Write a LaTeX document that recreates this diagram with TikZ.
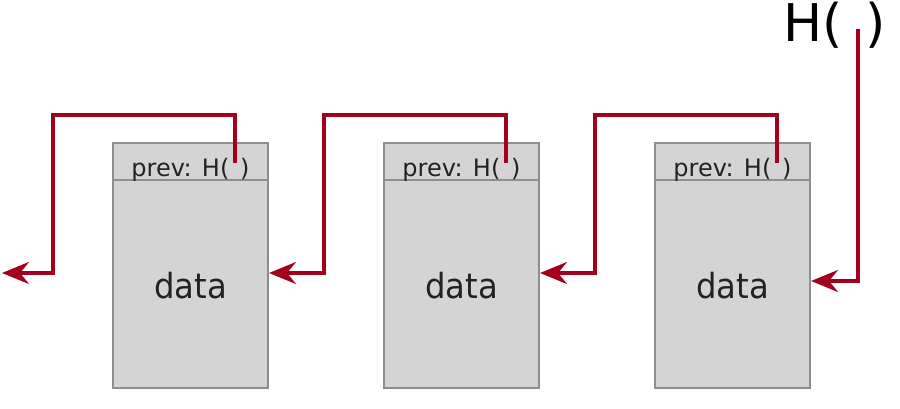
\documentclass[tikz,border=0pt]{standalone}
\usepackage{fontspec}
\usepackage{graphicx}
\setmainfont{DejaVu Sans}
\usetikzlibrary{arrows.meta}
\definecolor{linkred}{HTML}{A3001E}
\definecolor{boxfill}{HTML}{D4D4D5}
\definecolor{boxline}{HTML}{8E8E8E}
\definecolor{txt}{HTML}{222222}
\tikzset{
  blockbox/.style={draw=boxline, fill=boxfill, line width=2pt, minimum width=155pt, minimum height=245pt, inner sep=0pt},
  headtext/.style={text=txt, font=\fontsize{24}{24}\selectfont, inner sep=0pt, anchor=base},
  datatext/.style={text=txt, font=\fontsize{34}{34}\selectfont, inner sep=0pt, anchor=base},
  bigtext/.style={text=black, font=\fontsize{52}{52}\selectfont, inner sep=0pt, anchor=base west},
  link/.style={draw=linkred, line width=3.5pt, -{Stealth[length=27pt,width=22pt,inset=9pt]}}
}
\begin{document}
\begin{tikzpicture}[x=1pt,y=-1pt]
\useasboundingbox (0,0) rectangle (900,409);
\foreach \i/\x in {1/190.5,2/461.5,3/732.5}{
  \node[blockbox] (b\i) at (\x,265.5) {};
  \draw[boxline, line width=2pt] (\x-77.5,180) -- (\x+77.5,180);
  \node[headtext] (h\i) at (\x,176) {prev: H(\hspace{0.45em})};
  \node[datatext] (d\i) at (\x,298) {\scalebox{0.95}[1.02]{data}};
}
\node[bigtext] (top) at (783,42) {H(\hspace{0.45em})};
% coordinates
\coordinate (p1) at (235,163);
\coordinate (p2) at (506,163);
\coordinate (p3) at (777,163);
\coordinate (p4) at (858,29);
\coordinate (k1) at (53,115);
\coordinate (k2) at (324,115);
\coordinate (k3) at (595,115);
\coordinate (e0) at (2,273);
\coordinate (t1) at (b1.east |- 0,273);
\coordinate (t2) at (b2.east |- 0,273);
\coordinate (t3) at (b3.east |- 0,281);
\draw[link] (p1) |- (k1) |- (e0);
\draw[link] (p2) |- (k2) |- (t1);
\draw[link] (p3) |- (k3) |- (t2);
\draw[link] (p4) |- (t3);
\end{tikzpicture}
\end{document}
